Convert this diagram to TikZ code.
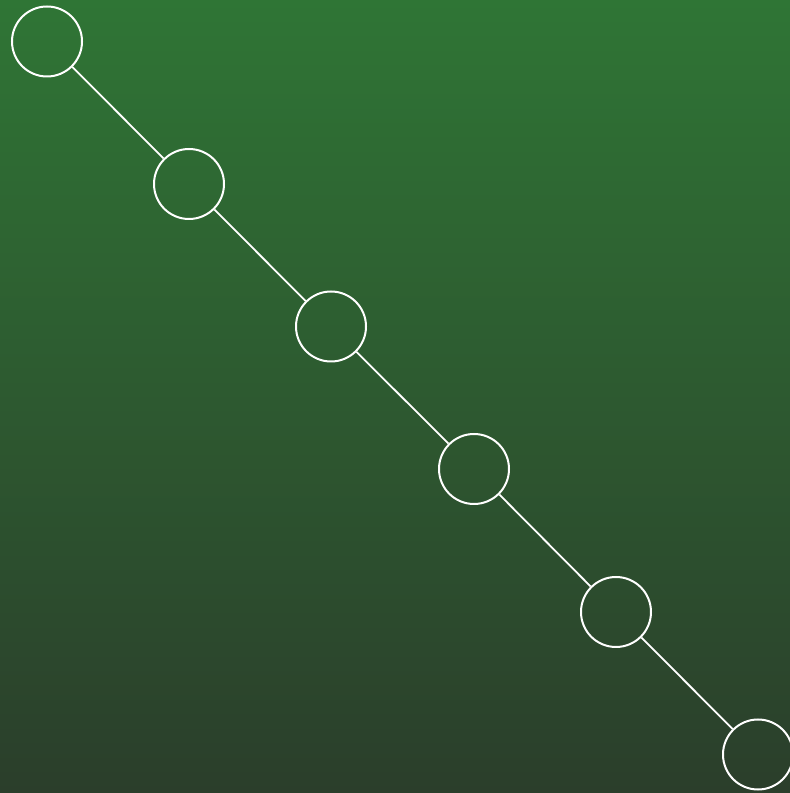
\documentclass[tikz,border=0pt]{standalone}
\definecolor{topgreen}{HTML}{2F7535}
\definecolor{botgreen}{HTML}{2B3E2B}
\tikzset{
  ball/.style={circle, draw=white, line width=2pt, minimum size=70pt, inner sep=0pt},
  link/.style={draw=white, line width=1.8pt}
}
\begin{document}
\begin{tikzpicture}[x=1pt,y=1pt]
\clip (0,0) rectangle (790,793);
\fill[top color=topgreen, bottom color=botgreen] (0,0) rectangle (790,793);
\useasboundingbox (0,0) rectangle (790,793);
\node[ball] (n1) at (47,751.5) {};
\node[ball] (n2) at (189,609) {};
\node[ball] (n3) at (331,466.5) {};
\node[ball] (n4) at (474,324) {};
\node[ball] (n5) at (616,181) {};
\node[ball] (n6) at (758,38.5) {};
\draw[link] (n1) -- (n2);
\draw[link] (n2) -- (n3);
\draw[link] (n3) -- (n4);
\draw[link] (n4) -- (n5);
\draw[link] (n5) -- (n6);
\end{tikzpicture}
\end{document}
